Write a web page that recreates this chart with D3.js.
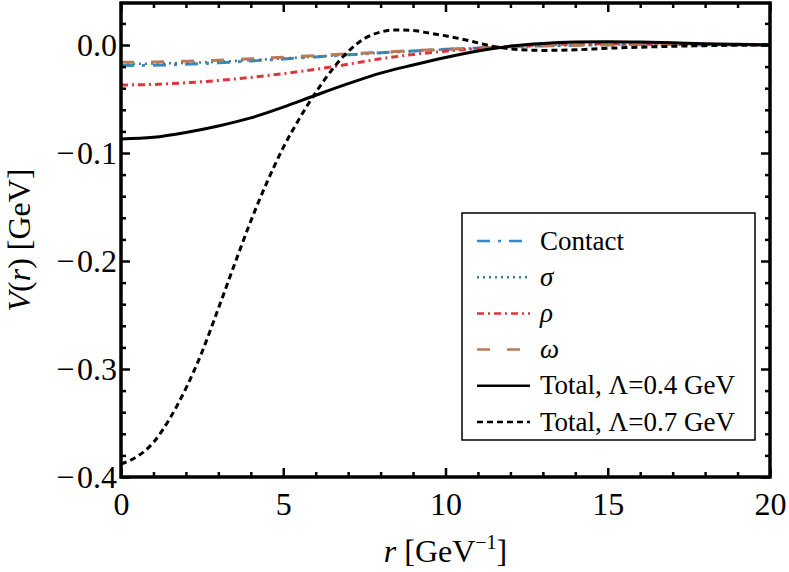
<!DOCTYPE html>
<html>
  <head>
    <meta charset="utf-8">
    <title>V(r)</title>
    <style>
      body { margin: 0; padding: 0; background: #fff; }
      svg { display: block; }
      .lbl { font-family: "Liberation Serif", "Times New Roman", serif; }
    </style>
  </head>
  <body>
    <svg width="789" height="572"></svg>
    <script src="https://cdn.jsdelivr.net/npm/d3@7"></script>
    <script>
      // r grid (GeV^-1) shared by the components and the 0.4 GeV total
      var rGrid = [0,1,2,3,4,5,6,7,8,9,10,11,12,13,14,15,16,17,18,19,20];
      var contact = [-0.019,-0.0187,-0.0178,-0.0165,-0.0148,-0.013,-0.011,-0.009,-0.0072,-0.0055,-0.004,-0.0027,-0.0016,-0.0007,-0.0001,0.0003,0.0004,0.0004,0.0003,0.0002,0.0001];
      var sigma = [-0.0175,-0.0172,-0.0165,-0.0155,-0.014,-0.0124,-0.0107,-0.009,-0.0073,-0.0057,-0.0042,-0.0029,-0.0018,-0.0009,-0.0003,0.0001,0.0003,0.0003,0.0002,0.0001,0.0];
      var rho = [-0.037,-0.0365,-0.035,-0.0328,-0.03,-0.0265,-0.0225,-0.0178,-0.0128,-0.0088,-0.0057,-0.0032,-0.0013,0.0002,0.0009,0.0011,0.001,0.0008,0.0005,0.0003,0.0001];
      var omega = [-0.016,-0.0157,-0.015,-0.014,-0.0127,-0.0113,-0.0098,-0.0082,-0.0067,-0.0052,-0.0039,-0.0027,-0.0017,-0.0008,-0.0002,0.0002,0.0004,0.0004,0.0003,0.0002,0.0001];
      var total04 = [-0.087,-0.0855,-0.081,-0.075,-0.0675,-0.0575,-0.0465,-0.0358,-0.026,-0.0185,-0.0115,-0.0055,-0.001,0.0015,0.0027,0.003,0.0027,0.002,0.0012,0.0006,0.0002];

      // the 0.7 GeV total needs a finer grid at small r
      var rTotal07 = [0,0.5,1,1.5,2,2.5,3,3.5,4,4.5,5,5.5,6,6.5,7,7.5,8,8.5,9,9.5,10,10.5,11,11.5,12,13,14,15,16,17,18,19,20];
      var total07 = [-0.388,-0.381,-0.368,-0.346,-0.318,-0.284,-0.244,-0.203,-0.163,-0.127,-0.095,-0.068,-0.044,-0.023,-0.006,0.006,0.012,0.014,0.0135,0.011,0.0085,0.0055,0.002,-0.0015,-0.0035,-0.005,-0.0045,-0.003,-0.002,-0.0012,-0.0006,-0.0002,0];

      var xMajor = [0,5,10,15,20];
      var yMajor = [0,-0.1,-0.2,-0.3,-0.4];

      var seriesNames = ["Contact", "σ", "ρ", "ω", "Total, Λ=0.4 GeV", "Total, Λ=0.7 GeV"];

      var font = '"Liberation Serif", "Times New Roman", serif';
      var svg = d3.select("svg");

      // plot box (note: "top" is taken by window.top, so prefixed names)
      var pL = 121, pR = 770, pT = 3, pB = 477;
      var x = d3.scaleLinear().domain([0, 20]).range([pL, pR]);
      var y = d3.scaleLinear().domain([-0.4, 0.0389]).range([pB, pT]);

      var series = [
        {r: rGrid, v: contact, color: "#3a88cc", dash: "13,8,3,8", width: 3},
        {r: rGrid, v: sigma, color: "#3f8270", dash: "2,4", width: 2.5},
        {r: rGrid, v: rho, color: "#e0343c", dash: "7,4,2,4", width: 3},
        {r: rGrid, v: omega, color: "#bb7a55", dash: "13,17", width: 3},
        {r: rGrid, v: total04, color: "#000", dash: null, width: 3},
        {r: rTotal07, v: total07, color: "#000", dash: "6,4", width: 3}
      ];

      var line = d3.line()
        .x(function(d) { return x(d[0]); })
        .y(function(d) { return y(d[1]); })
        .curve(d3.curveMonotoneX);

      svg.append("defs").append("clipPath").attr("id", "plot")
        .append("rect").attr("x", pL).attr("y", pT)
        .attr("width", pR - pL).attr("height", pB - pT);

      var curves = svg.append("g").attr("clip-path", "url(#plot)");
      series.forEach(function(s) {
        curves.append("path")
          .datum(d3.zip(s.r, s.v))
          .attr("d", line)
          .attr("fill", "none")
          .attr("stroke", s.color)
          .attr("stroke-width", s.width)
          .attr("stroke-dasharray", s.dash);
      });

      // ticks: inward, mirrored on all four sides
      var xMinor = d3.range(0, 21, 1).filter(function(v) { return v % 5 !== 0; });
      var yMinor = d3.range(-0.38, 0.039, 0.02).filter(function(v) { return Math.abs(v * 10 - Math.round(v * 10)) > 1e-6; });

      function styleAxis(g) {
        g.select(".domain").remove();
        g.selectAll("line").attr("stroke", "#000").attr("stroke-width", 2.5);
        g.selectAll("text").attr("fill", "#000");
        g.attr("font-family", font).attr("font-size", 32);
      }

      // tiny gap after the minus sign, as in the original
      var yFmt = function(v) { return d3.format(".1f")(v).replace("−", "−\u200A"); };

      svg.append("g").attr("transform", "translate(0," + pB + ")")
        .call(d3.axisBottom(x).tickValues(xMajor).tickSize(-9).tickPadding(15).tickFormat(d3.format("d")))
        .call(styleAxis);
      svg.append("g").attr("transform", "translate(0," + pB + ")")
        .call(d3.axisBottom(x).tickValues(xMinor).tickSize(-5).tickFormat(""))
        .call(styleAxis);
      svg.append("g").attr("transform", "translate(0," + pT + ")")
        .call(d3.axisTop(x).tickValues(xMajor).tickSize(-9).tickFormat(""))
        .call(styleAxis);
      svg.append("g").attr("transform", "translate(0," + pT + ")")
        .call(d3.axisTop(x).tickValues(xMinor).tickSize(-5).tickFormat(""))
        .call(styleAxis);

      svg.append("g").attr("transform", "translate(" + pL + ",0)")
        .call(d3.axisLeft(y).tickValues(yMajor).tickSize(-9).tickPadding(4).tickFormat(yFmt))
        .call(styleAxis);
      svg.append("g").attr("transform", "translate(" + pL + ",0)")
        .call(d3.axisLeft(y).tickValues(yMinor).tickSize(-5).tickFormat(""))
        .call(styleAxis);
      svg.append("g").attr("transform", "translate(" + pR + ",0)")
        .call(d3.axisRight(y).tickValues(yMajor).tickSize(-9).tickFormat(""))
        .call(styleAxis);
      svg.append("g").attr("transform", "translate(" + pR + ",0)")
        .call(d3.axisRight(y).tickValues(yMinor).tickSize(-5).tickFormat(""))
        .call(styleAxis);

      // frame
      svg.append("rect")
        .attr("x", pL).attr("y", pT)
        .attr("width", pR - pL).attr("height", pB - pT)
        .attr("fill", "none").attr("stroke", "#000").attr("stroke-width", 3.5);

      // axis labels
      var xl = svg.append("text").attr("class", "lbl")
        .attr("x", (pL + pR) / 2).attr("y", 562)
        .attr("text-anchor", "middle").attr("font-size", 32);
      xl.append("tspan").attr("font-style", "italic").text("r");
      xl.append("tspan").text(" [GeV");
      xl.append("tspan").attr("font-size", 20).attr("dy", -13).text("−1");
      xl.append("tspan").attr("dy", 13).text("]");

      var yl = svg.append("text").attr("class", "lbl")
        .attr("transform", "translate(30," + ((pT + pB) / 2) + ") rotate(-90)")
        .attr("text-anchor", "middle").attr("font-size", 32);
      yl.append("tspan").attr("font-style", "italic").text("V");
      yl.append("tspan").text("(");
      yl.append("tspan").attr("font-style", "italic").text("r");
      yl.append("tspan").text(") [GeV]");

      // legend
      var lg = svg.append("g");
      lg.append("rect")
        .attr("x", 462).attr("y", 213).attr("width", 293).attr("height", 227)
        .attr("fill", "#fff").attr("stroke", "#000").attr("stroke-width", 1.5);
      series.forEach(function(s, i) {
        var yy = 241 + i * 36.2;
        lg.append("line")
          .attr("x1", 477).attr("x2", 530).attr("y1", yy).attr("y2", yy)
          .attr("stroke", s.color).attr("stroke-width", 2.5)
          .attr("stroke-dasharray", s.dash);
        lg.append("text").attr("class", "lbl")
          .attr("x", 540).attr("y", yy + 8.5)
          .attr("font-size", 27)
          .attr("font-style", (i >= 1 && i <= 3) ? "italic" : null)
          .text(seriesNames[i]);
      });
    </script>
  </body>
</html>
